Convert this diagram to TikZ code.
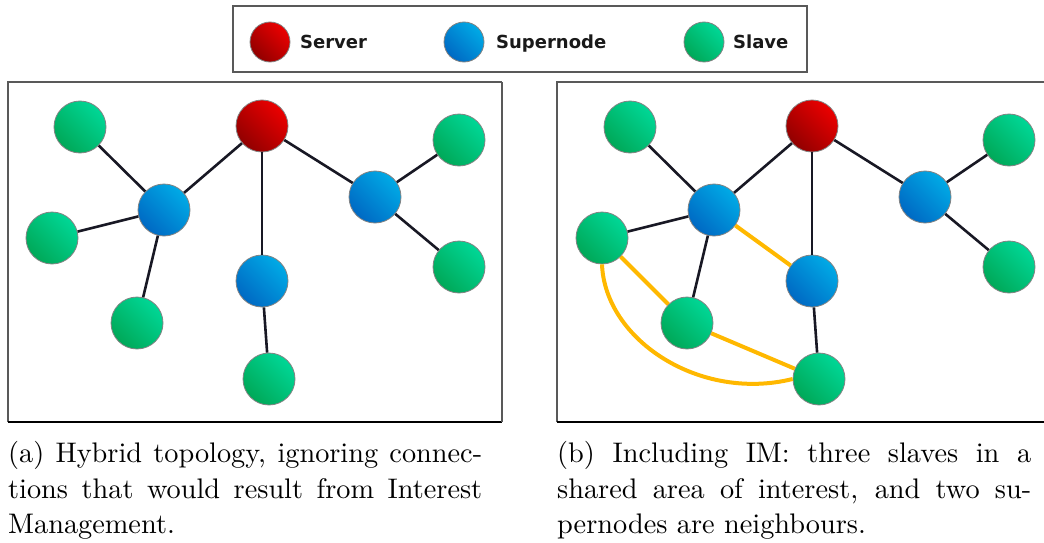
\documentclass[tikz,border=0pt]{standalone}
\usepackage{fontspec}
\newfontfamily\legfont{DejaVu Sans}
\newfontfamily\capfont[Extension=.otf]{lmroman10-regular}
\definecolor{srvD}{RGB}{145,0,0}
\definecolor{srvL}{RGB}{235,0,0}
\definecolor{supD}{RGB}{0,105,195}
\definecolor{supL}{RGB}{0,170,230}
\definecolor{slvD}{RGB}{0,168,88}
\definecolor{slvL}{RGB}{0,215,150}
\definecolor{edgeC}{RGB}{24,24,36}
\definecolor{imC}{RGB}{255,184,0}
\definecolor{ringC}{RGB}{130,130,130}
\tikzset{
  ball/.style={circle, inner sep=0pt, draw=ringC, line width=0.8pt},
  srvnode/.style={ball, minimum size=52pt, top color=srvL, bottom color=srvD, shading angle=-45},
  supnode/.style={ball, minimum size=52pt, top color=supL, bottom color=supD, shading angle=-45},
  slvnode/.style={ball, minimum size=52pt, top color=slvL, bottom color=slvD, shading angle=-45},
  legsrv/.style={srvnode, minimum size=40pt},
  legsup/.style={supnode, minimum size=40pt},
  legslv/.style={slvnode, minimum size=40pt},
  link/.style={draw=edgeC, line width=2.6pt},
  imlink/.style={draw=imC, line width=4pt},
  legtext/.style={anchor=base west, inner sep=0pt, font=\legfont\bfseries\fontsize{18}{22}\selectfont, text=black!90},
  captext/.style={anchor=base west, inner sep=0pt, font=\capfont\fontsize{28.3}{35}\selectfont},
  framegray/.style={draw=black!65, line width=1.4pt},
  frameblack/.style={draw=black, line width=1.4pt}
}
\begin{document}
\begin{tikzpicture}[x=1pt,y=-1pt]
\useasboundingbox (0,0) rectangle (1044,543);
% legend
\draw[framegray] (233,6) rectangle (807,72);
\node[legsrv] (lgs) at (270,42) {};
\node[legtext] (lgst) at (300,48.5) {Server};
\node[legsup] (lgp) at (464,42) {};
\node[legtext] (lgpt) at (496,48.5) {Supernode};
\node[legslv] (lgl) at (704,42) {};
\node[legtext] (lglt) at (733,48.5) {Slave};
% left frame
\draw[framegray] (8,422) -- (8,82) -- (502,82);
\draw[frameblack] (8,422) -- (502,422);
\draw[framegray] (502,422) -- (502,82);
% right frame
\draw[framegray] (557,422) -- (557,82) -- (1050,82);
\draw[frameblack] (557,422) -- (1050,422);
% left graph
\node[srvnode] (aS) at (262,126) {};
\node[supnode] (aN1) at (164,210) {};
\node[supnode] (aN2) at (375,197) {};
\node[supnode] (aN3) at (262,281) {};
\node[slvnode] (aL1) at (80,127) {};
\node[slvnode] (aL2) at (52,238) {};
\node[slvnode] (aL3) at (137,323) {};
\node[slvnode] (aL4) at (269,379) {};
\node[slvnode] (aL5) at (459,140) {};
\node[slvnode] (aL6) at (459,267) {};
\draw[link] (aS) -- (aN1);
\draw[link] (aS) -- (aN2);
\draw[link] (aS) -- (aN3);
\draw[link] (aN1) -- (aL1);
\draw[link] (aN1) -- (aL2);
\draw[link] (aN1) -- (aL3);
\draw[link] (aN3) -- (aL4);
\draw[link] (aN2) -- (aL5);
\draw[link] (aN2) -- (aL6);
% right graph
\begin{scope}[xshift=550pt]
\node[srvnode] (bS) at (262,126) {};
\node[supnode] (bN1) at (164,210) {};
\node[supnode] (bN2) at (375,197) {};
\node[supnode] (bN3) at (262,281) {};
\node[slvnode] (bL1) at (80,127) {};
\node[slvnode] (bL2) at (52,238) {};
\node[slvnode] (bL3) at (137,323) {};
\node[slvnode] (bL4) at (269,379) {};
\node[slvnode] (bL5) at (459,140) {};
\node[slvnode] (bL6) at (459,267) {};
\draw[link] (bS) -- (bN1);
\draw[link] (bS) -- (bN2);
\draw[link] (bS) -- (bN3);
\draw[link] (bN1) -- (bL1);
\draw[link] (bN1) -- (bL2);
\draw[link] (bN1) -- (bL3);
\draw[link] (bN3) -- (bL4);
\draw[link] (bN2) -- (bL5);
\draw[link] (bN2) -- (bL6);
\draw[imlink] (bN1) -- (bN3);
\draw[imlink] (bL2) -- (bL3);
\draw[imlink] (bL3) -- (bL4);
\draw[imlink] (bL2.south) .. controls (55,340) and (150,402) .. (bL4.west);
\end{scope}
% captions
\node[captext] (ca1) at (8,462.7) {\makebox[474pt][s]{(a) Hybrid topology, ignoring connec-}};
\node[captext] (ca2) at (8,498) {\makebox[474pt][s]{tions that would result from Interest}};
\node[captext] (ca3) at (8,533.3) {Management.};
\node[captext] (cb1) at (557,462.7) {\makebox[474pt][s]{(b) Including IM: three slaves in a}};
\node[captext] (cb2) at (557,498) {\makebox[474pt][s]{shared area of interest, and two su-}};
\node[captext] (cb3) at (557,533.3) {pernodes are neighbours.};
\end{tikzpicture}
\end{document}
